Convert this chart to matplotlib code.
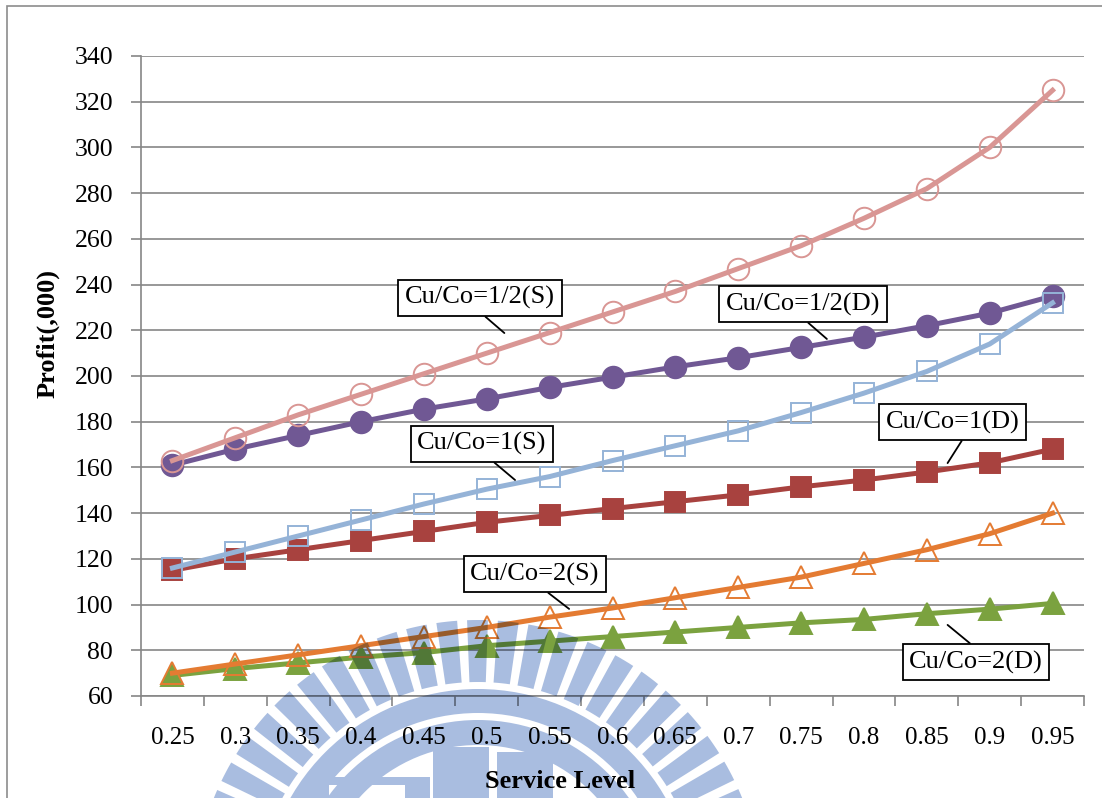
import numpy as np
import matplotlib
matplotlib.use("Agg")
import matplotlib.pyplot as plt
from matplotlib.patches import Wedge, Rectangle

W, H, DPI = 1102, 798, 100

# Service level categories and profit (thousands) per policy
levels = ["0.25", "0.3", "0.35", "0.4", "0.45", "0.5", "0.55", "0.6",
          "0.65", "0.7", "0.75", "0.8", "0.85", "0.9", "0.95"]
half_s = [163, 173, 183, 192, 201, 210, 219, 228, 237, 247, 257, 269, 282, 300, 325]
half_d = [161, 168, 174, 180, 185.5, 190, 195, 199.5, 204, 208, 212.5, 217, 222, 227.5, 235]
one_s = [116, 123, 130, 137, 144, 150.5, 156, 163, 169.5, 176, 184, 192.5, 202, 214, 232]
one_d = [115, 120, 124, 128, 132, 136, 139, 142, 145, 148, 151.5, 154.5, 158, 162, 168]
two_s = [70, 74, 78, 82, 86, 90, 94.5, 98.5, 103, 107.5, 112, 118, 124, 131, 140]
two_d = [69, 72, 74.5, 77, 79, 82, 84, 86, 88, 90, 92, 93.5, 96, 98, 100.5]

plt.rcParams["font.family"] = "Liberation Serif"
grey = "#868686"

fig = plt.figure(figsize=(W / DPI, H / DPI), dpi=DPI)
ax = fig.add_axes([141 / W, 1 - 696 / H, 943 / W, 640 / H])
x = np.arange(len(levels))

# values, colour, marker, filled, label, label pos (axes frac), leader end (data), leader start on box
series = [
    (half_d, "#705894", "o", True, "Cu/Co=1/2(D)", (0.702, 0.6125), (10.41, 216.2), (0.48, 0)),
    (one_d, "#A8423F", "s", True, "Cu/Co=1(D)", (0.861, 0.428), (12.33, 161.9), (0.6, 0)),
    (two_d, "#7BA23F", "^", True, "Cu/Co=2(D)", (0.8855, 0.053), (12.33, 91.1), (0.52, 1)),
    (half_s, "#D99694", "o", False, "Cu/Co=1/2(S)", (0.3595, 0.622), (5.28, 218.8), (0.48, 0)),
    (one_s, "#95B3D7", "s", False, "Cu/Co=1(S)", (0.3616, 0.394), (5.45, 154.5), (0.53, 0)),
    (two_s, "#E47B32", "^", False, "Cu/Co=2(S)", (0.4178, 0.1906), (6.31, 98.1), (0.53, 0)),
]

for vals, col, mk, filled, label, tpos, end, rel in series:
    ms = {"o": 15.5, "s": 15, "^": 16}[mk]
    ax.plot(x, vals, color=col, lw=3.6, marker=mk, ms=ms,
            mfc=col if filled else "none", mec=col, mew=1.4, zorder=3)
    ax.annotate(label, xy=end, xycoords="data", xytext=tpos, textcoords="axes fraction",
                ha="center", va="center", fontsize=19, zorder=5,
                bbox=dict(boxstyle="square,pad=0.25", fc="white", ec="black", lw=1.3),
                arrowprops=dict(arrowstyle="-", color="black", lw=1.3, relpos=rel,
                                shrinkA=0, shrinkB=0))

ax.set_xlim(-0.5, len(levels) - 0.5)
ax.set_ylim(60, 340)
ax.set_yticks(range(60, 341, 20))
ax.set_xticks(x)
ax.set_xticklabels(levels)
ax.set_xticks(np.arange(-0.5, len(levels), 1), minor=True)
ax.tick_params(axis="x", which="major", length=0, pad=22, labelsize=18)
ax.tick_params(axis="x", which="minor", length=7, width=1.2, color=grey)
ax.tick_params(axis="y", length=7, width=1.2, color=grey, pad=13, labelsize=18.5)
for s in ["top", "right"]:
    ax.spines[s].set_visible(False)
for s in ["left", "bottom"]:
    ax.spines[s].set_color(grey)
    ax.spines[s].set_linewidth(1.2)
ax.yaxis.grid(True, color=grey, lw=1.2)
ax.set_axisbelow(True)

fig.text(48 / W, 1 - 334 / H, "Profit(,000)", rotation=90, fontsize=19,
         fontweight="bold", ha="center", va="center")
fig.text(560 / W, 1 - 782 / H, "Service Level", fontsize=19,
         fontweight="bold", ha="center", va="center")
fig.add_artist(Rectangle((7 / W, -0.05), 1.0, 1.05 - 6 / H, transform=fig.transFigure,
                         fill=False, ec="#8c8c8c", lw=1.2))

# watermark layer, multiplied onto the chart
wm = plt.figure(figsize=(W / DPI, H / DPI), dpi=DPI)
wax = wm.add_axes([0, 0, 1, 1])
wax.set_xlim(0, W)
wax.set_ylim(H, 0)
wax.axis("off")
wcol = "#A9BDE0"
cx, cy = 478, 905
for a in np.arange(181, 360, 6.2):
    wax.add_patch(Wedge((cx, cy), 285, a, a + 4.2, width=62, fc=wcol, ec="none"))
wax.add_patch(Wedge((cx, cy), 216, 180, 360, width=24, fc=wcol, ec="none"))
wax.add_patch(Wedge((cx, cy), 185, 180, 360, width=25, fc=wcol, ec="none"))
for r in [(433, 747, 56, 60), (497, 752, 56, 60), (313, 777, 117, 8),
          (313, 777, 16, 30), (405, 777, 25, 30)]:
    wax.add_patch(Rectangle(r[:2], r[2], r[3], fc=wcol, ec="none"))

fig.canvas.draw()
wm.canvas.draw()
img = np.asarray(fig.canvas.buffer_rgba())[..., :3] / 255.0
mask = np.asarray(wm.canvas.buffer_rgba())[..., :3] / 255.0
plt.imsave("out.png", np.clip(img * mask, 0, 1))
